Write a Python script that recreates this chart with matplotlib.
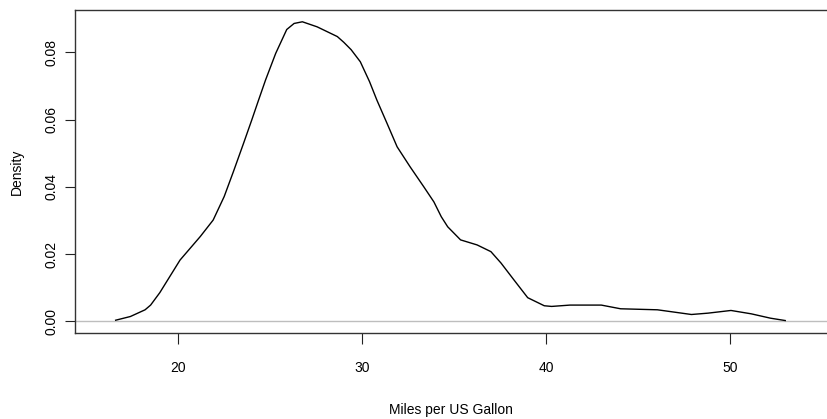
import matplotlib
matplotlib.use("Agg")
import matplotlib.pyplot as plt

# density curve
mpg = [16.6, 17.4, 18.2, 18.5, 19.0, 20.1, 21.2, 21.9, 22.5, 23.0, 23.55,
       24.0, 24.35, 24.75, 25.3, 25.9, 26.3, 26.75, 27.55, 28.65, 29.0,
       29.4, 29.9, 30.4, 30.8, 31.35, 31.9, 32.6, 33.35, 33.9, 34.3, 34.65,
       35.35, 36.25, 37.0, 37.55, 38.25, 39.0, 39.9, 40.3, 41.3, 43.0,
       44.05, 46.05, 47.9, 48.8, 50.05, 51.15, 52.2, 53.0]
density = [0.0003, 0.0014, 0.0034, 0.0048, 0.0085, 0.0182, 0.0252, 0.0301,
           0.0371, 0.0445, 0.0529, 0.0599, 0.0655, 0.0718, 0.0797, 0.0868,
           0.0886, 0.0891, 0.0876, 0.0847, 0.0830, 0.0808, 0.0772, 0.0713,
           0.0658, 0.0589, 0.0519, 0.0460, 0.0400, 0.0355, 0.0311, 0.0281,
           0.0242, 0.0227, 0.0207, 0.0173, 0.0123, 0.0070, 0.0046, 0.0044,
           0.0048, 0.0048, 0.0037, 0.0034, 0.0020, 0.0024, 0.0032, 0.0022,
           0.0009, 0.0002]

x_ticks = [20, 30, 40, 50]
y_ticks = [0.00, 0.02, 0.04, 0.06, 0.08]
y_tick_labels = ["0.00", "0.02", "0.04", "0.06", "0.08"]

plt.rcParams["font.family"] = ["Liberation Sans", "DejaVu Sans"]

fig = plt.figure(figsize=(8.27, 4.19), dpi=100)
ax = fig.add_axes([0.0907, 0.2053, 0.9093, 0.7708])

ax.axhline(0, color="#bebebe", lw=1.0, zorder=1)
ax.plot(mpg, density, color="black", lw=1.0, zorder=2)

ax.set_xlim(14.39, 55.27)
ax.set_ylim(-0.0035, 0.0926)

ax.set_xticks(x_ticks)
ax.set_xticklabels([str(t) for t in x_ticks])
ax.set_yticks(y_ticks)
ax.set_yticklabels(y_tick_labels, rotation=90, va="center")

ax.tick_params(axis="x", length=8, width=0.8, labelsize=10, pad=12, color="#222222")
ax.tick_params(axis="y", length=7, width=0.8, labelsize=10, pad=5, color="#222222")

for side, sp in ax.spines.items():
    sp.set_color("#333333")
    sp.set_linewidth(1.0)
ax.spines["right"].set_visible(False)

ax.set_xlabel("Miles per US Gallon", fontsize=10, labelpad=20)
ax.set_ylabel("Density", fontsize=10, labelpad=15)

fig.savefig("out.png", dpi=100)
